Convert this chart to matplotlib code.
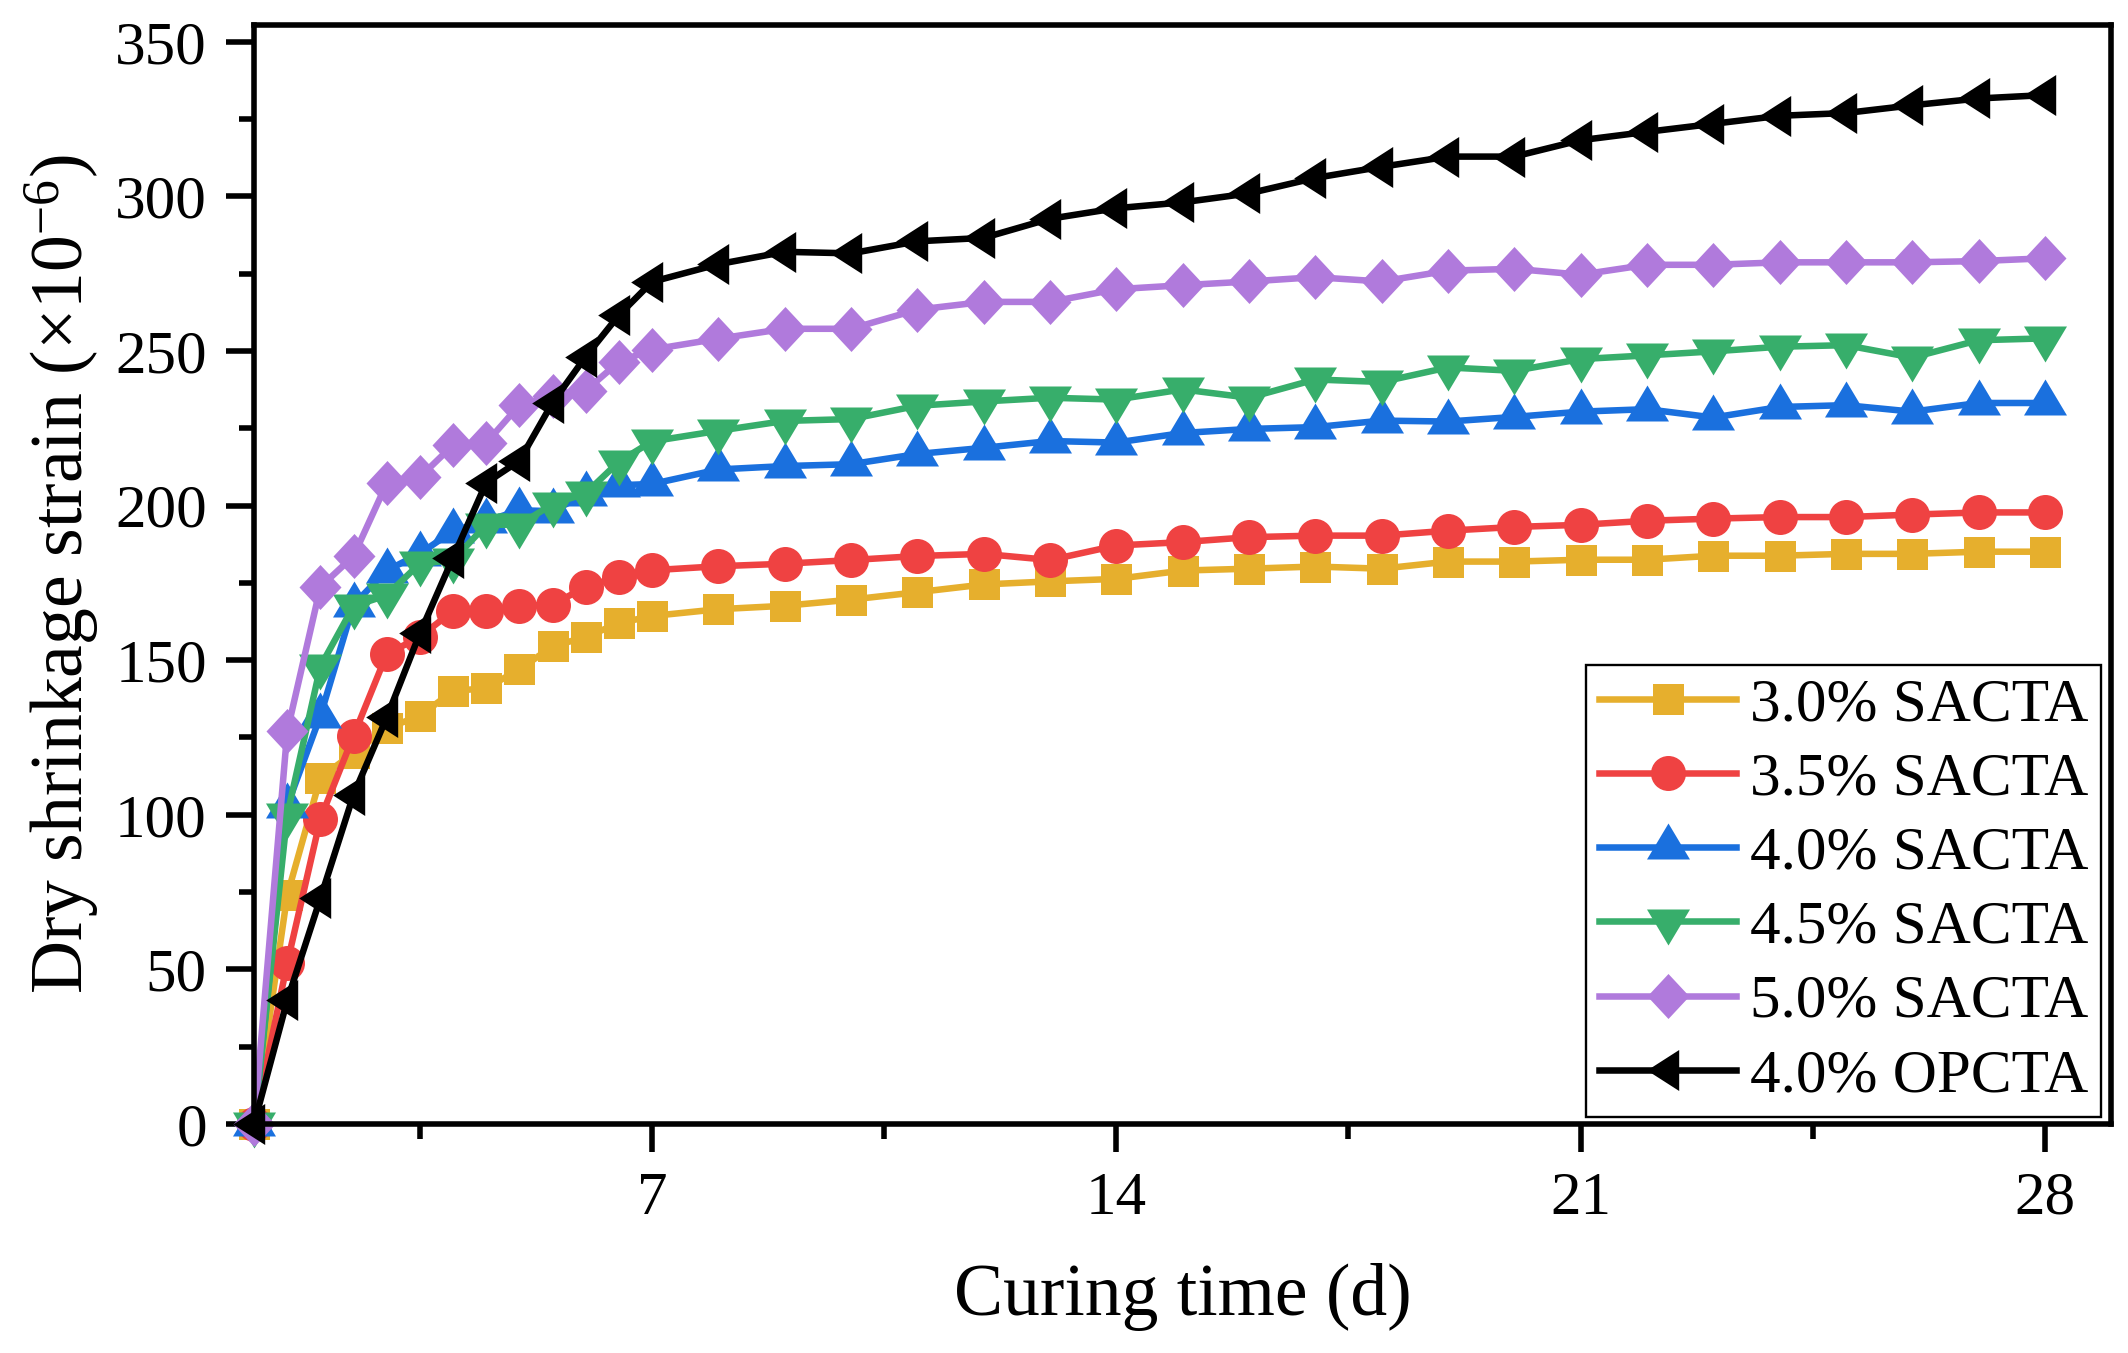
import matplotlib

matplotlib.use("Agg")
import matplotlib.pyplot as plt
from matplotlib.ticker import FixedLocator

plt.rcParams["font.family"] = ["Liberation Serif", "DejaVu Serif"]
plt.rcParams["mathtext.fontset"] = "custom"
plt.rcParams["mathtext.rm"] = "Liberation Serif"
plt.rcParams["mathtext.it"] = "Liberation Serif:italic"

# curing time (d): half-day readings in the first week, then daily
days = [1, 1.5, 2, 2.5, 3, 3.5, 4, 4.5, 5, 5.5, 6, 6.5, 7,
        8, 9, 10, 11, 12, 13, 14, 15, 16, 17, 18, 19, 20, 21,
        22, 23, 24, 25, 26, 27, 28]

sacta_30 = [0, 74, 112, 120, 128, 132, 140, 141, 147, 154.5, 157.5, 162, 164.3,
            166.5, 167.6, 169.6, 172, 174.5, 175.5, 176.3, 179, 179.6, 180.3, 179.6,
            181.9, 181.9, 182.5, 182.5, 183.8, 183.8, 184.4, 184.4, 185.1, 185.1]
sacta_35 = [0, 52, 98.7, 125.6, 152, 157.5, 166, 166, 167.5, 168, 173.7, 177, 179.1,
            180.4, 181.2, 182.4, 183.7, 184.4, 182.4, 187.1, 188.2, 189.8, 190.3, 190.3,
            191.9, 193.1, 193.8, 195.1, 195.8, 196.3, 196.3, 197.1, 197.8, 197.8]
sacta_40 = [0, 103, 132, 168, 179, 184.5, 191.8, 195, 198.5, 198.2, 203.8, 206.6, 207,
            211.7, 212.8, 213.4, 216.7, 218.7, 220.9, 220.4, 223.5, 224.8, 225.4, 227.5,
            227.2, 228.7, 230.4, 231.2, 228.5, 231.9, 232.5, 230.4, 233.2, 233.2]
sacta_45 = [0, 100, 148, 167.5, 171, 181.3, 182.3, 193.8, 193.8, 200.5, 204, 214.2, 220.8,
            224.2, 227.4, 228, 232.3, 233.7, 234.9, 234.3, 237.6, 234.9, 240.8, 240,
            244.7, 243.6, 247.4, 248.6, 249.9, 251.4, 251.9, 247.9, 253.5, 254.1]
sacta_50 = [0, 127, 173.7, 183.7, 207.2, 209.2, 219.6, 220.3, 232.5, 235.5, 237.2, 246.5, 250.5,
            254, 257.2, 257.2, 263.4, 265.9, 265.9, 270, 271.3, 272.5, 273.9, 272.5,
            276, 276.6, 274.7, 277.9, 277.9, 278.7, 278.7, 278.7, 279.1, 280]
opcta_40 = [0, 40, 73, 106.5, 131.5, 158.7, 183.2, 207.4, 214.5, 233.3, 248.2, 261.6, 272.4,
            278.1, 282.1, 281.6, 285.5, 286.6, 292.8, 296.2, 298.1, 301, 306, 309.6,
            312.9, 312.9, 318.2, 320.9, 323.5, 326.1, 327, 329.5, 331.7, 332.8]

labels = ["3.0% SACTA", "3.5% SACTA", "4.0% SACTA",
          "4.5% SACTA", "5.0% SACTA", "4.0% OPCTA"]

# Origin-like symbols, centroid on the data point
tri_up = [(0, 24), (-21.5, -12), (21.5, -12), (0, 24)]
tri_down = [(0, -24), (-21.5, 12), (21.5, 12), (0, -24)]
tri_left = [(-21.3, 0), (10.7, 20.5), (10.7, -20.5), (-21.3, 0)]
diamond = [(0, 22.5), (21, 0), (0, -22.5), (-21, 0), (0, 22.5)]

PX = 72 / 100  # pixels -> points at dpi 100
styles = [
    ("#E6AF2D", "s", 31 * PX),
    ("#EF4242", "o", 35 * PX),
    ("#1A70DE", tri_up, 48 * PX),
    ("#37AE6B", tri_down, 48 * PX),
    ("#B07ADC", diamond, 45 * PX),
    ("#000000", tri_left, 42.6 * PX),
]

fig = plt.figure(figsize=(21.28, 13.53), dpi=100)
ax = fig.add_axes([0.1194, 0.1693, 0.8727, 0.8123])

for ys, lab, (color, marker, ms) in zip(
        [sacta_30, sacta_35, sacta_40, sacta_45, sacta_50, opcta_40], labels, styles):
    ax.plot(days, ys, color=color, lw=4.7, marker=marker, ms=ms,
            mew=0, label=lab, clip_on=False)

ax.set_xlim(1, 29)
ax.set_ylim(0, 355.5)
ax.xaxis.set_major_locator(FixedLocator([7, 14, 21, 28]))
ax.xaxis.set_minor_locator(FixedLocator([3.5, 10.5, 17.5, 24.5]))
ax.yaxis.set_major_locator(FixedLocator(range(0, 351, 50)))
ax.yaxis.set_minor_locator(FixedLocator(range(25, 351, 50)))

for sp in ax.spines.values():
    sp.set_linewidth(4.0)
ax.tick_params(which="both", direction="out", width=4.0, top=False, right=False,
               labelsize=44, pad=14)
ax.tick_params(which="major", length=20)
ax.tick_params(which="minor", length=10.5)

ax.set_xlabel("Curing time (d)", fontsize=53, labelpad=26)
ax.set_ylabel("Dry shrinkage strain (×10$^{-6}$)", fontsize=53, labelpad=10)

leg = ax.legend(loc="lower right", bbox_to_anchor=(0.9946, 0.0064), borderaxespad=0,
                fontsize=44, frameon=True, fancybox=False, framealpha=1,
                edgecolor="black", handlelength=2.25, handletextpad=0.22,
                labelspacing=0.30, borderpad=0.21, numpoints=1)
leg.get_frame().set_linewidth(1.7)

fig.savefig("out.png", dpi=100, facecolor="white")
